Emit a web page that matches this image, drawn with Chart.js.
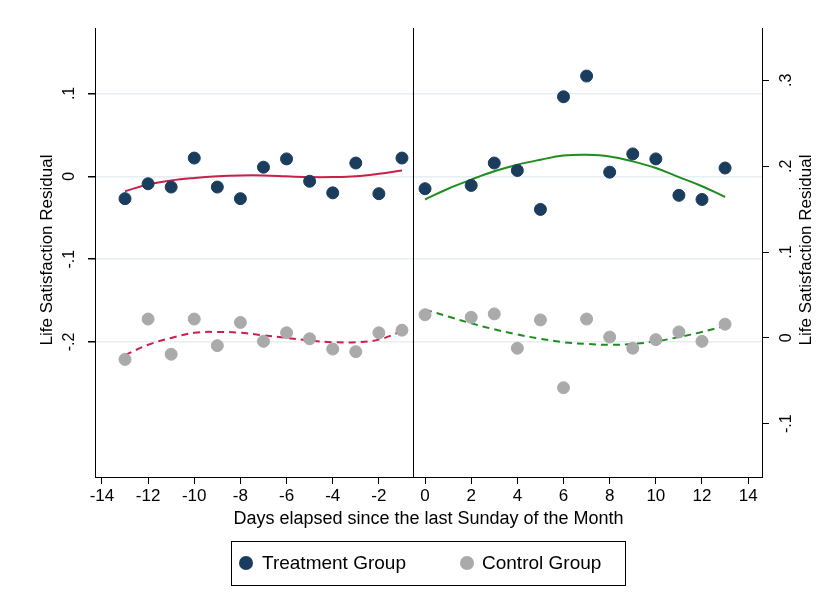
<!DOCTYPE html>
<html>
<head>
<meta charset="utf-8">
<script src="https://cdn.jsdelivr.net/npm/chart.js@4"></script>
<style>body{margin:0;background:#fff}</style>
</head>
<body>
<canvas id="myChart" width="831" height="604"></canvas>
<script>
const days = [-13,-12,-11,-10,-9,-8,-7,-6,-5,-4,-3,-2,-1,0,2,3,4,5,6,7,8,9,10,11,12,13];
const treatment = [-0.027,-0.009,-0.013,0.022,-0.013,-0.027,0.011,0.021,-0.006,-0.020,0.016,-0.021,0.022,
  -0.015,-0.011,0.016,0.007,-0.040,0.096,0.121,0.005,0.027,0.021,-0.023,-0.028,0.010];
const control = [-0.025,0.022,-0.019,0.022,-0.009,0.018,-0.004,0.006,-0.001,-0.013,-0.016,0.006,0.009,
  0.027,0.024,0.028,-0.012,0.021,-0.058,0.022,0.001,-0.012,-0.002,0.007,-0.004,0.016];
const fitDaysBefore = [-13,-12,-11,-10,-9,-8,-7,-6,-5,-4,-3,-2,-1];
const fitDaysAfter = [0,1,2,3,4,5,6,7,8,9,10,11,12,13];
const treatFitBefore = [-0.018,-0.010,-0.005,-0.002,0,0.001,0.001,0,-0.001,-0.001,0,0.003,0.007];
const treatFitAfter = [-0.028,-0.015,-0.004,0.006,0.014,0.020,0.025,0.026,0.024,0.018,0.010,-0.001,-0.012,-0.025];
const ctrlFitBefore = [-0.020,-0.008,0.000,0.006,0.007,0.006,0.003,0.000,-0.003,-0.005,-0.005,-0.002,0.008];
const ctrlFitAfter = [0.033,0.025,0.017,0.010,0.004,-0.001,-0.005,-0.007,-0.008,-0.007,-0.004,0.001,0.007,0.014];
const xTicks = [-14,-12,-10,-8,-6,-4,-2,0,2,4,6,8,10,12,14];
const leftTicks = [0.1,0,-0.1,-0.2];
const leftLabels = [".1","0","-.1","-.2"];
const rightTicks = [0.3,0.2,0.1,0,-0.1];
const rightLabels = [".3",".2",".1","0","-.1"];
const seriesNames = ['Treatment Group', 'Control Group'];

const navy = '#1a3d5e', grey = '#aaaaaa', crimson = '#c8204a', green = '#1f8c1f';
const pts = (xs, ys) => xs.map((x, i) => ({x: x, y: ys[i]}));
const fit = (xs, ys, color, axis, dash) => ({
  type: 'line', data: pts(xs, ys), yAxisID: axis, borderColor: color, borderWidth: 2,
  borderDash: dash ? [7, 5] : [], pointRadius: 0, tension: 0.4, fill: false
});

const rotLabels = {
  id: 'rotLabels',
  afterDraw(chart) {
    const c = chart.ctx;
    c.save();
    c.fillStyle = '#000';
    c.font = '16px Arial, "Liberation Sans"';
    c.textAlign = 'center';
    const yl = chart.scales.yL, yr = chart.scales.yR;
    leftTicks.forEach((v, i) => {
      c.save(); c.translate(yl.right - 17, yl.getPixelForValue(v)); c.rotate(-Math.PI / 2);
      c.textBaseline = 'bottom'; c.fillText(leftLabels[i], 0, 0); c.restore();
    });
    rightTicks.forEach((v, i) => {
      c.save(); c.translate(yr.left + 17, yr.getPixelForValue(v)); c.rotate(-Math.PI / 2);
      c.textBaseline = 'top'; c.fillText(rightLabels[i], 0, 0); c.restore();
    });
    c.font = '17px Arial, "Liberation Sans"';
    c.save(); c.translate(47, 250); c.rotate(-Math.PI / 2); c.textBaseline = 'middle';
    c.fillText('Life Satisfaction Residual', 0, 0); c.restore();
    c.save(); c.translate(806, 250); c.rotate(-Math.PI / 2); c.textBaseline = 'middle';
    c.fillText('Life Satisfaction Residual', 0, 0); c.restore();
    // legend box
    c.strokeStyle = '#000'; c.lineWidth = 1;
    c.strokeRect(231.5, 541.5, 394, 44);
    c.font = '19px Arial, "Liberation Sans"';
    c.textAlign = 'left'; c.textBaseline = 'middle';
    [[246, navy, seriesNames[0], 262], [467, grey, seriesNames[1], 482]].forEach(([cx, col, txt, tx]) => {
      c.fillStyle = col; c.beginPath(); c.arc(cx, 563, 7, 0, Math.PI * 2); c.fill();
      c.fillStyle = '#000'; c.fillText(txt, tx, 564);
    });
    c.restore();
  }
};

new Chart(document.getElementById('myChart').getContext('2d'), {
  data: {
    datasets: [
      {type: 'scatter', data: pts(days, treatment), yAxisID: 'yL',
       backgroundColor: navy, borderColor: navy, pointRadius: 6},
      {type: 'scatter', data: pts(days, control), yAxisID: 'yR',
       backgroundColor: grey, borderColor: grey, pointRadius: 6},
      fit(fitDaysBefore, treatFitBefore, crimson, 'yL', false),
      fit(fitDaysAfter, treatFitAfter, green, 'yL', false),
      fit(fitDaysBefore, ctrlFitBefore, crimson, 'yR', true),
      fit(fitDaysAfter, ctrlFitAfter, green, 'yR', true),
      {type: 'line', data: [{x: -0.5, y: -0.363}, {x: -0.5, y: 0.179}], yAxisID: 'yL',
       borderColor: '#000', borderWidth: 1, pointRadius: 0}
    ]
  },
  options: {
    responsive: false, animation: false,
    layout: {padding: {left: 10, right: 10, top: 28, bottom: 70}},
    plugins: {tooltip: {enabled: false}, legend: {display: false}},
    scales: {
      x: {
        type: 'linear', min: -14.3, max: 14.6,
        afterBuildTicks: s => { s.ticks = xTicks.map(v => ({value: v})); },
        ticks: {color: '#000', font: {size: 17, family: 'Arial, "Liberation Sans"'}, padding: 2,
          maxRotation: 0, callback: v => String(v)},
        grid: {drawOnChartArea: false, tickLength: 7, color: '#000'},
        border: {color: '#000'},
        title: {display: true, text: 'Days elapsed since the last Sunday of the Month', color: '#000',
          font: {size: 18, family: 'Arial, "Liberation Sans"'}, padding: {top: 0, bottom: 4}}
      },
      yL: {
        type: 'linear', position: 'left', min: -0.363, max: 0.179,
        afterBuildTicks: s => { s.ticks = leftTicks.map(v => ({value: v})); },
        afterFit: s => { s.width = 85; },
        ticks: {callback: () => ''},
        grid: {color: '#e6eef2', lineWidth: 1.5, tickLength: 7, tickColor: '#000'},
        border: {color: '#000'}
      },
      yR: {
        type: 'linear', position: 'right', min: -0.162, max: 0.361,
        afterBuildTicks: s => { s.ticks = rightTicks.map(v => ({value: v})); },
        afterFit: s => { s.width = 59; },
        ticks: {callback: () => ''},
        grid: {drawOnChartArea: false, tickLength: 7, tickColor: '#000'},
        border: {color: '#000'}
      }
    }
  },
  plugins: [rotLabels]
});
</script>
</body>
</html>
